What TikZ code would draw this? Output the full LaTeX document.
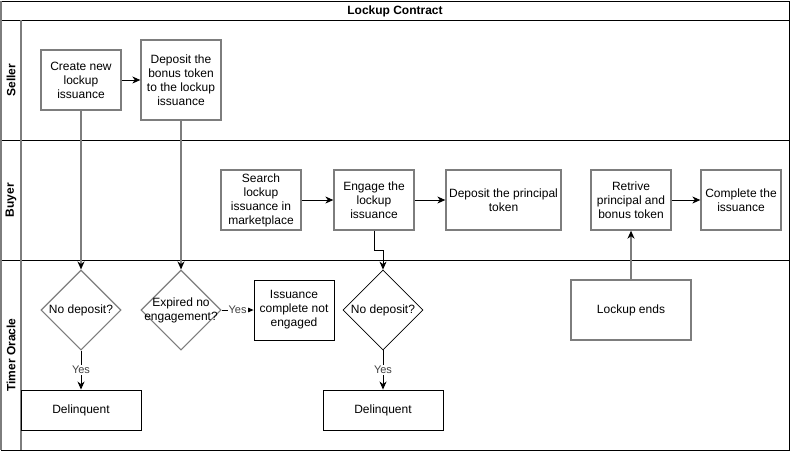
\documentclass[tikz,border=0pt]{standalone}
\usepackage{fontspec}
\setmainfont{Liberation Sans}
\usetikzlibrary{arrows.meta,shapes.geometric}
\definecolor{graybox}{RGB}{125,125,125}
\tikzset{
    block/.style = {draw=graybox, line width=1.3pt, rectangle,
        minimum height=60pt,
        minimum width=80pt, align=center, inner sep=2pt},
    blockb/.style = {block, draw=black, line width=0.9pt},
    decision/.style = {draw=graybox, line width=1.1pt, diamond,
        minimum width=80pt, minimum height=80pt, inner sep=0pt},
    arrow/.style = {draw, line width=0.9pt, -{Stealth[length=8pt,width=7pt,inset=2.5pt,color=black]}},
    grayarrow/.style = {arrow, draw=graybox, line width=1.4pt},
    lane/.style = {rotate=90, font=\bfseries\fontsize{12}{14}\selectfont},
    yes/.style = {fill=white, inner sep=1pt, text=darkgray, font=\fontsize{11}{13}\selectfont}
}

\begin{document}
\begin{tikzpicture}[x=1pt, y=-1pt, font=\fontsize{12}{14}\selectfont]
        \useasboundingbox (0,0) rectangle (791,451);
        % pool and lanes
        \draw[line width=1pt] (1,1) rectangle (789,450);
        \draw[line width=1pt] (1,20) -- (789,20);
        \draw[line width=1pt] (1,140) -- (789,140);
        \draw[line width=1pt] (1,260) -- (789,260);
        \draw[graybox, line width=1.4pt] (21,20) -- (21,450);
        \draw[graybox, line width=1.4pt] (1,1) -- (1,450);
        \node [font=\bfseries\fontsize{12}{14}\selectfont] (title) at (395,11) {Lockup Contract};
        \node [lane] (seller) at (11,80) {Seller};
        \node [lane] (buyer) at (11,200) {Buyer};
        \node [lane] (oracle) at (11,355) {Timer Oracle};
        % seller
        \node [block] (create) at (81,80) {Create new\\lockup\\issuance};
        \node [block, minimum height=80pt, right of=create, node distance=100pt] (bonus) {Deposit the\\bonus token\\to the lockup\\issuance};
        \draw[arrow] (create) -- (bonus);
        % buyer
        \node [block] (search) at (261,200) {Search\\lockup\\issuance in\\marketplace};
        \node [block, right of=search, node distance=113pt] (engage) {Engage the\\lockup\\issuance};
        \node [block, minimum width=115pt, right of=engage, node distance=129.5pt] (principal) {Deposit the principal\\token};
        \node [block, right of=principal, node distance=127.5pt] (retrive) {Retrive\\principal and\\bonus token};
        \node [block, right of=retrive, node distance=110pt] (complete) {Complete the\\issuance};
        \draw[arrow] (search) -- (engage);
        \draw[arrow] (engage) -- (principal);
        \draw[arrow] (retrive) -- (complete);
        % timer oracle
        \node [decision, label={[align=center]center:No deposit?}] (nodep1) at (81,310) {};
        \node [decision, right of=nodep1, node distance=100pt,
            label={[align=center]center:Expired no\\engagement?}] (expired) {};
        \node [blockb, right of=expired, node distance=113pt] (notengaged) {Issuance\\complete not\\engaged};
        \node [decision, draw=black, line width=0.8pt, right of=notengaged, node distance=89pt,
            label={[align=center]center:No deposit?}] (nodep2) {};
        \node [blockb, minimum width=120pt, minimum height=40pt, below of=nodep1, node distance=100pt] (delinq1) {Delinquent};
        \node [blockb, minimum width=120pt, minimum height=40pt, below of=nodep2, node distance=100pt] (delinq2) {Delinquent};
        \node [block, minimum width=120pt, below of=retrive, node distance=110pt] (lockupends) {Lockup ends};
        \draw[grayarrow] (create) -- (nodep1);
        \draw[grayarrow] (bonus) -- (expired);
        \draw[arrow] (engage.south) -- ++(0,20) -| (nodep2.north);
        \draw[arrow] (nodep1.south) -- node[yes] {Yes} (delinq1.north);
        \draw[arrow] (expired.east) -- node[yes] {Yes} (notengaged.west);
        \draw[arrow] (nodep2.south) -- node[yes] {Yes} (delinq2.north);
        \draw[grayarrow] (lockupends) -- (retrive);
    \end{tikzpicture}
\end{document}
